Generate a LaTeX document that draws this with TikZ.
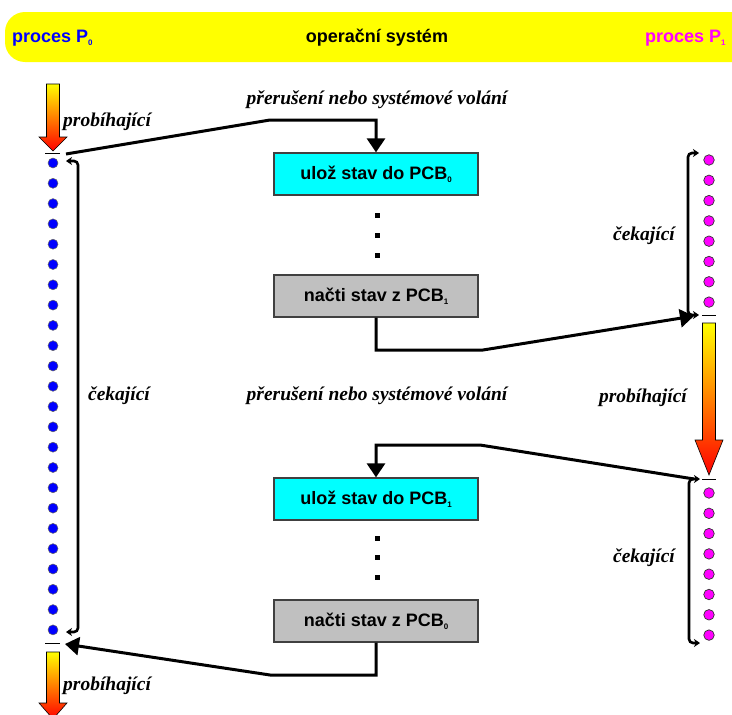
\documentclass[tikz,border=0pt]{standalone}
\usepackage{fontspec}
\setmainfont{Liberation Sans}
\newfontfamily\labelfont{Liberation Serif}
\usetikzlibrary{arrows.meta}

\definecolor{bannerY}{RGB}{255,255,0}
\definecolor{saveC}{RGB}{0,255,255}
\definecolor{loadG}{RGB}{192,192,192}
\definecolor{pA}{RGB}{0,0,255}
\definecolor{pB}{RGB}{255,0,255}

% small lowered index used in "P0", "PCB1", ...
\newcommand\idx[1]{\raisebox{-0.35ex}{\fontsize{8}{8}\selectfont #1}}

% downward "running" arrow: x centre, top of shaft, start of head, tip
\newcommand\runarrow[4]{%
  \shadedraw[top color=yellow, bottom color=red, draw=black, line width=0.6]
    ({#1-6.5},#2) -- ({#1+6.5},#2) -- ({#1+6.5},#3) -- ({#1+14},#3)
    -- (#1,#4) -- ({#1-14},#3) -- ({#1-6.5},#3) -- cycle;}

\tikzset{
  headtext/.style={font=\bfseries\fontsize{18}{20}\selectfont, inner sep=0},
  stepbox/.style={draw=black!75, line width=1.3, minimum width=204,
    minimum height=42, inner sep=0, font=\bfseries\fontsize{18}{20}\selectfont},
  savebox/.style={stepbox, fill=saveC},
  loadbox/.style={stepbox, fill=loadG},
  note/.style={font=\labelfont\bfseries\itshape\fontsize{19.5}{22}\selectfont, inner sep=0},
  bdot/.style={circle, fill=pA, draw=black!60, line width=0.5, inner sep=0, minimum size=10},
  mdot/.style={circle, fill=pB, draw=black!80, line width=0.7, inner sep=0, minimum size=10.5},
  vdot/.style={rectangle, fill=black, inner sep=0, minimum size=5},
  flow/.style={draw=black, line width=3, -{Triangle[length=14,width=18]}},
  bracket/.style={draw=black, line width=2.6, rounded corners=4,
    {Stealth[length=6,width=8]}-{Stealth[length=6,width=8]}},
  tick/.style={draw=black, line width=1},
}

\begin{document}
\begin{tikzpicture}[x=1pt, y=-1pt]
  \clip (0,0) rectangle (732,715);
  \fill[white] (0,0) rectangle (732,715);

  % title bar
  \fill[bannerY, rounded corners=20] (5,12) rectangle (770,62);
  \node[headtext, text=pA, anchor=west] (hP0) at (12,38) {proces P\idx{0}};
  \node[headtext] (hOS) at (377,38) {operační systém};
  \node[headtext, text=pB, anchor=west] (hP1) at (645,38) {proces P\idx{1}};

  % process P0: ready states as dots
  \foreach \i in {0,...,23}
    \node[bdot] (l\i) at (53,{163+\i*20.3}) {};
  % process P1: two waiting runs
  \foreach \i in {0,...,7}
    \node[mdot] (r\i) at (709,{160+\i*20.3}) {};
  \foreach \i in {0,...,7}
    \node[mdot] (s\i) at (709,{493+\i*20.3}) {};

  % running periods
  \runarrow{53}{84}{137}{151}
  \runarrow{53}{652}{703}{719}
  \runarrow{709}{323}{440}{475}

  % switch marks
  \draw[tick] (45,153) -- (60,153);
  \draw[tick] (45,643) -- (60,643);
  \draw[tick] (702,315) -- (716,315);
  \draw[tick] (702,479) -- (716,479);

  % kernel steps
  \node[savebox] (b1) at (376,174) {ulož stav do PCB\idx{0}};
  \node[loadbox] (b2) at (376,296) {načti stav z PCB\idx{1}};
  \node[savebox] (b3) at (376,499) {ulož stav do PCB\idx{1}};
  \node[loadbox] (b4) at (376,621) {načti stav z PCB\idx{0}};

  \foreach \y [count=\k] in {215,235,255}
    \node[vdot] (m\k) at (377,\y) {};
  \foreach \y [count=\k] in {538,557,577}
    \node[vdot] (n\k) at (377,\y) {};

  % labels
  \node[note] (t1) at (377,100) {přerušení nebo systémové volání};
  \node[note] (t2) at (377,396) {přerušení nebo systémové volání};
  \node[note, anchor=west] (run1) at (63,122) {probíhající};
  \node[note, anchor=west] (run2) at (63,686) {probíhající};
  \node[note] (run3) at (643,398) {probíhající};
  \node[note] (w1) at (119,396) {čekající};
  \node[note] (w2) at (644,236) {čekající};
  \node[note] (w3) at (644,558) {čekající};

  % waiting brackets
  \draw[bracket] (66,161) -- (78,161) -- (78,632) -- (66,632);
  \draw[bracket] (699,153) -- (688,153) -- (688,315) -- (699,315);
  \draw[bracket] (700,479) -- (689,479) -- (689,643) -- (700,643);

  % context switch paths
  \coordinate (p0out) at (66,154);
  \coordinate (k1) at (270,120);
  \coordinate (k2) at (483,350);
  \coordinate (p1in) at (694,316);
  \coordinate (p1out) at (694,479);
  \coordinate (k3) at (480,445);
  \coordinate (k4) at (270,675);
  \coordinate (p0in) at (65,644);

  \draw[flow] (p0out) -- (k1) -| (b1.north);
  \draw[flow] (b2.south) |- (k2) -- (p1in);
  \draw[flow] (p1out) -- (k3) -| (b3.north);
  \draw[flow] (b4.south) |- (k4) -- (p0in);
\end{tikzpicture}
\end{document}
